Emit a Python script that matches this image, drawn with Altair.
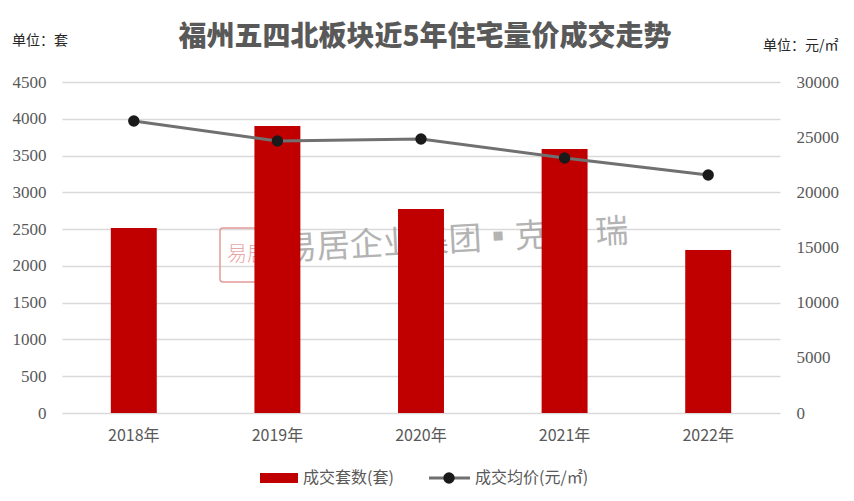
import altair as alt
import pandas as pd

years = ["2018年", "2019年", "2020年", "2021年", "2022年"]
units = [2515, 3902, 2773, 3589, 2216]
prices = [26460, 24650, 24830, 23110, 21570]

df = pd.DataFrame({"year": years, "units": units, "price": prices})

GREY = "#595959"
FONT = "Noto Sans CJK SC"
NUMFONT = "Liberation Sans Narrow"

base = alt.Chart(df)

bars = base.mark_bar(color="#c00000").encode(
    x=alt.X("year:N", sort=years, title=None,
            scale=alt.Scale(paddingInner=0.68, paddingOuter=0.34),
            axis=alt.Axis(labelAngle=0, domain=False, ticks=False, labelPadding=14,
                          labelFont=FONT, labelFontSize=16, labelColor=GREY)),
    y=alt.Y("units:Q", title=None,
            scale=alt.Scale(domain=[0, 4500], nice=False),
            axis=alt.Axis(values=list(range(0, 4501, 500)), format="d", domain=False, ticks=False,
                          grid=True, gridColor="#d9d9d9", gridWidth=1.3,
                          labelFont=NUMFONT, labelFontSize=17, labelColor=GREY, labelPadding=16)),
)

line = base.mark_line(color="#707070", strokeWidth=3).encode(
    x=alt.X("year:N", sort=years),
    y=alt.Y("price:Q", title=None,
            scale=alt.Scale(domain=[0, 30000], nice=False),
            axis=alt.Axis(orient="right", values=list(range(0, 30001, 5000)), format="d",
                          domain=False, ticks=False, grid=False, labelFont=NUMFONT,
                          labelFontSize=17, labelColor=GREY, labelPadding=16)),
)
points = base.mark_point(filled=True, color="#1a1a1a", size=130, opacity=1).encode(
    x=alt.X("year:N", sort=years),
    y=alt.Y("price:Q", scale=alt.Scale(domain=[0, 30000], nice=False)),
)

right = alt.layer(line, points)

# watermark
wm = alt.Chart(pd.DataFrame({"t": ["易居企业集团▪克 而 瑞"]})).mark_text(
    font=FONT, fontSize=33, color="#9a9a9a", opacity=0.75, align="left", baseline="middle",
    angle=357
).encode(x=alt.value(222), y=alt.value(168), text="t:N")
wm_box = alt.Chart(pd.DataFrame({"a": [1]})).mark_rect(
    fill="white", fillOpacity=0, stroke="#e39a9a", strokeWidth=1.5, cornerRadius=3
).encode(x=alt.value(158), x2=alt.value(213), y=alt.value(146), y2=alt.value(200))
wm_logo = alt.Chart(pd.DataFrame({"t": ["易居"]})).mark_text(
    font=FONT, fontSize=20, fontWeight=300, color="#e08a8a", opacity=0.75, align="center",
    baseline="middle"
).encode(x=alt.value(185), y=alt.value(173), text="t:N")

# texts
title = alt.Chart(pd.DataFrame({"t": ["福州五四北板块近5年住宅量价成交走势"]})).mark_text(
    font=FONT, fontSize=28, fontWeight=900, color=GREY, align="center", baseline="middle"
).encode(x=alt.value(363), y=alt.value(-44), text="t:N")
lunit = alt.Chart(pd.DataFrame({"t": ["单位：套"]})).mark_text(
    font=FONT, fontSize=14, color="#262626", align="left", baseline="middle"
).encode(x=alt.value(-50), y=alt.value(-41), text="t:N")
runit = alt.Chart(pd.DataFrame({"t": ["单位：元/㎡"]})).mark_text(
    font=FONT, fontSize=14, color="#262626", align="left", baseline="middle"
).encode(x=alt.value(701), y=alt.value(-36), text="t:N")

# legend
leg_rect = alt.Chart(pd.DataFrame({"a": [1]})).mark_rect(color="#c00000").encode(
    x=alt.value(198), x2=alt.value(236), y=alt.value(391), y2=alt.value(401))
leg_t1 = alt.Chart(pd.DataFrame({"t": ["成交套数(套)"]})).mark_text(
    font=FONT, fontSize=16, color=GREY, align="left", baseline="middle"
).encode(x=alt.value(241), y=alt.value(396), text="t:N")
leg_line = alt.Chart(pd.DataFrame({"a": [1]})).mark_rule(color="#707070", strokeWidth=3).encode(
    x=alt.value(367), x2=alt.value(408), y=alt.value(396))
leg_dot = alt.Chart(pd.DataFrame({"a": [1]})).mark_point(
    filled=True, color="#1a1a1a", size=130, opacity=1).encode(x=alt.value(387), y=alt.value(396))
leg_t2 = alt.Chart(pd.DataFrame({"t": ["成交均价(元/㎡)"]})).mark_text(
    font=FONT, fontSize=16, color=GREY, align="left", baseline="middle"
).encode(x=alt.value(413), y=alt.value(396), text="t:N")

chart = alt.layer(
    wm, wm_box, wm_logo, bars, right, title, lunit, runit,
    leg_rect, leg_t1, leg_line, leg_dot, leg_t2
).resolve_scale(y="independent").properties(
    width=718, height=331,
    autosize=alt.AutoSizeParams(type="none"),
    padding={"left": 54, "top": 74, "right": 66, "bottom": 84},
).configure_view(stroke=None).configure_axis(labelFontWeight="normal")

chart.save("out.html", embed_options={"renderer": "svg", "actions": False})
